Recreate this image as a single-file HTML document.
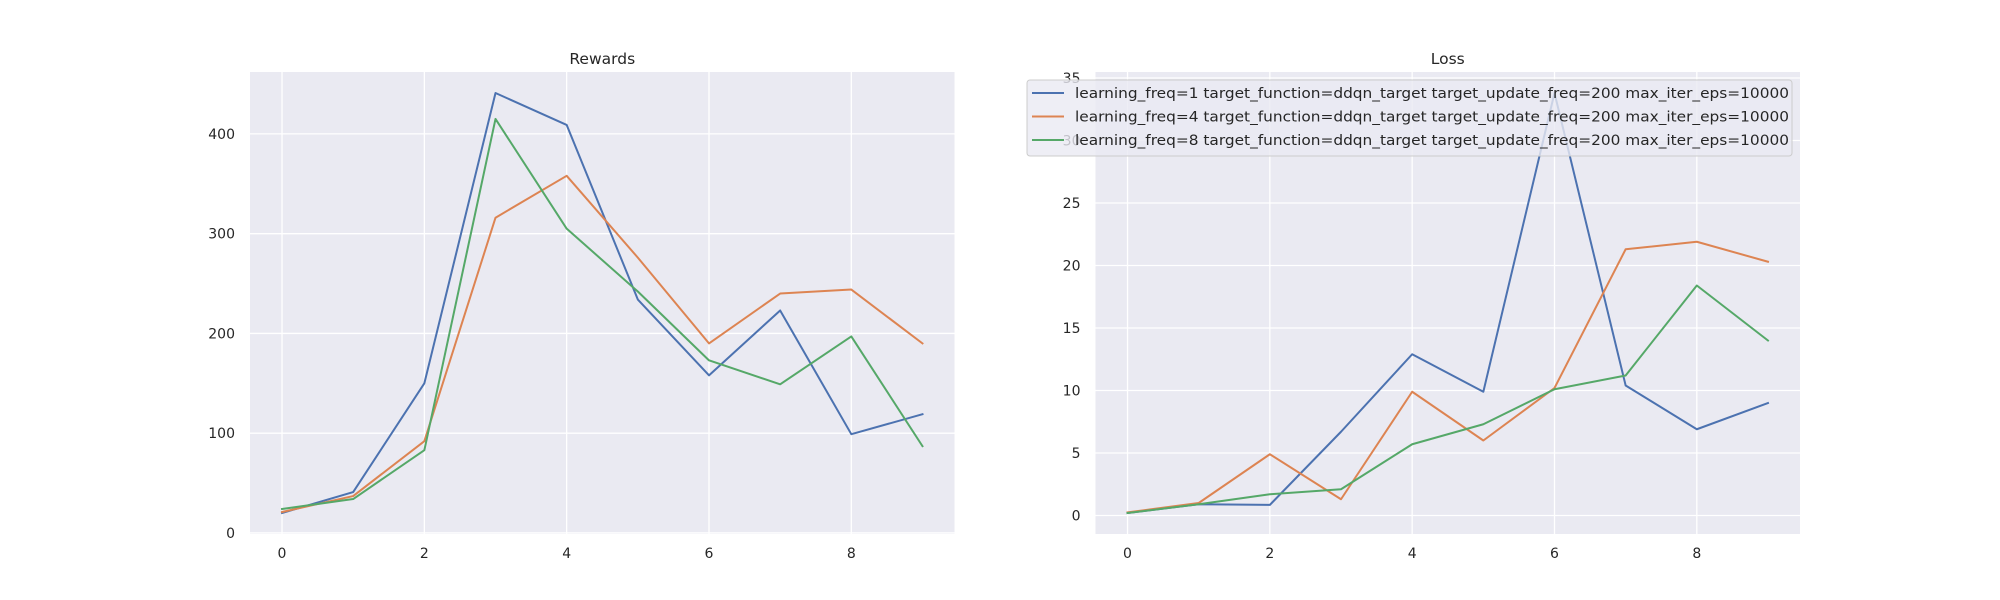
<!DOCTYPE html>
<html><head><meta charset="utf-8"><style>
html,body{margin:0;padding:0;background:#fff;}
svg{display:block;font-family:"DejaVu Sans","Liberation Sans",sans-serif;}
</style></head><body>
<svg id="fig" width="2000" height="600" viewBox="0 0 2000 600" xmlns="http://www.w3.org/2000/svg"></svg>
<script>
const xValues = [0,1,2,3,4,5,6,7,8,9];
const xTicks = [0,2,4,6,8];
const rewardsBlue = [20,41,150,441,409,234,158,223,99,119];
const rewardsOrange = [21,37,92,316,358,276,190,240,244,190];
const rewardsGreen = [24,34,83,415,305,242,173,149,197,87];
const rewardsTicks = [0,100,200,300,400];
const lossBlue = [0.2,0.9,0.85,6.7,12.9,9.9,33.8,10.4,6.9,9.0];
const lossOrange = [0.25,1.0,4.9,1.3,9.9,6.0,10.2,21.3,21.9,20.3];
const lossGreen = [0.2,0.9,1.7,2.1,5.7,7.3,10.1,11.2,18.4,14.0];
const lossTicks = [0,5,10,15,20,25,30,35];
const seriesLabels = [
 "learning_freq=1 target_function=ddqn_target target_update_freq=200 max_iter_eps=10000",
 "learning_freq=4 target_function=ddqn_target target_update_freq=200 max_iter_eps=10000",
 "learning_freq=8 target_function=ddqn_target target_update_freq=200 max_iter_eps=10000"];
const colors = ["#4c72b0","#dd8452","#55a868"];

const NS="http://www.w3.org/2000/svg";
const svg=document.getElementById('fig');
function mk(tag,attrs,parent){const e=document.createElementNS(NS,tag);for(const k in attrs)e.setAttribute(k,attrs[k]);(parent||svg).appendChild(e);return e;}

function drawAxes(x0,x1,y0,y1,series,yTicks,title,key){
  const all=[].concat(...series);
  const mn=Math.min(...all), mx=Math.max(...all), r=mx-mn;
  const ylo=mn-0.05*r, yhi=mx+0.05*r;
  const xlo=-0.45, xhi=9.45;
  const sx=v=>x0+(v-xlo)/(xhi-xlo)*(x1-x0);
  const sy=v=>y1-(v-ylo)/(yhi-ylo)*(y1-y0);
  const g=mk('g',{});
  
  
  const bg=mk('rect',{x:x0,y:y0,width:x1-x0,height:y1-y0,fill:'#eaeaf2'},g);
  
  
  xTicks.forEach(t=>{
    const l=mk('line',{x1:sx(t),x2:sx(t),y1:y0,y2:y1,stroke:'#fff','stroke-width':1.3},g);
    
    
    const tx=mk('text',{x:sx(t),y:y1+24,'text-anchor':'middle','font-size':14,fill:'#262626'},g);
    tx.textContent=t;
    
    
  });
  yTicks.forEach(t=>{
    const yy=sy(t);
    if(yy<y0-1||yy>y1+1)return;
    const l=mk('line',{x1:x0,x2:x1,y1:yy,y2:yy,stroke:'#fff','stroke-width':1.3},g);
    
    
    const tx=mk('text',{x:x0-15,y:yy+5,'text-anchor':'end','font-size':14,fill:'#262626'},g);
    tx.textContent=t;
    
    
  });
  series.forEach((s,i)=>{
    const p=mk('polyline',{points:s.map((v,j)=>sx(xValues[j])+','+sy(v)).join(' '),fill:'none',stroke:colors[i],'stroke-width':2,'stroke-linejoin':'round','stroke-linecap':'square'},g);
    
    
  });
  const tt=mk('text',{x:(x0+x1)/2,y:y0-8,'text-anchor':'middle','font-size':15.5,fill:'#262626'},g);
  tt.textContent=title;
  
  
}
drawAxes(250,954.5,72,534,[rewardsBlue,rewardsOrange,rewardsGreen],rewardsTicks,'Rewards','rewards');
drawAxes(1095.5,1800,72,534,[lossBlue,lossOrange,lossGreen],lossTicks,'Loss','loss');

const lg=mk('g',{});


const lb=mk('rect',{x:1027,y:80,width:765,height:76,rx:3,fill:'#eaeaf2','fill-opacity':0.8,stroke:'#cccccc','stroke-width':1},lg);


seriesLabels.forEach((lab,i)=>{
  const y=93+i*23.5;
  const h=mk('line',{x1:1032,x2:1064,y1:y,y2:y,stroke:colors[i],'stroke-width':2},lg);
  
  
  const t=mk('text',{x:1075,y:y+5,'font-size':14,fill:'#262626',textLength:714,lengthAdjust:'spacingAndGlyphs'},lg);
  t.textContent=lab;
  
  
});
</script>
</body></html>
